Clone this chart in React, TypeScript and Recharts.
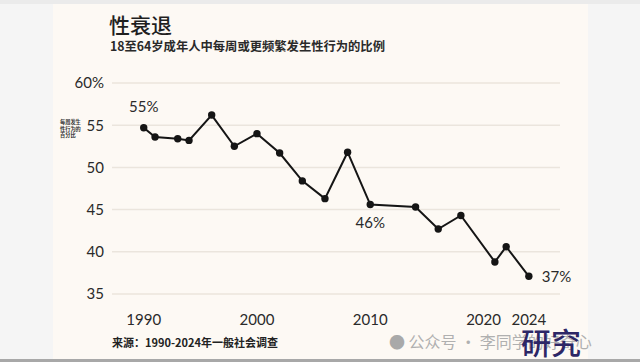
import React from 'react';
import { LineChart, Line, XAxis, YAxis, CartesianGrid, LabelList } from 'recharts';

const years = [1990, 1991, 1993, 1994, 1996, 1998, 2000, 2002, 2004, 2006, 2008, 2010, 2014, 2016, 2018, 2021, 2022, 2024];
const shares = [54.7, 53.6, 53.4, 53.2, 56.2, 52.5, 54.0, 51.7, 48.4, 46.3, 51.8, 45.6, 45.3, 42.7, 44.3, 38.8, 40.6, 37.1];
const callouts = ['55%', '', '', '', '', '', '', '', '', '', '', '46%', '', '', '', '', '', '37%'];
const xTicks = [1990, 2000, 2010, 2020, 2024];
const yTicks = [35, 40, 45, 50, 55, 60];

const data = years.map((year, i) => ({ year, share: shares[i], callout: callouts[i] }));

const LATO = 'Lato, "Noto Sans", sans-serif';
const CJK = '"Noto Sans CJK SC", "Noto Sans", sans-serif';

// callout placement differs per point: above, below, right
const CalloutLabel = (props: any) => {
  const { x, y, value, index } = props;
  if (!value) return null;
  let tx = x, ty = y - 16, anchor: 'middle' | 'start' = 'middle';
  if (index === 11) ty = y + 23;
  if (index === data.length - 1) { tx = x + 13; ty = y + 6; anchor = 'start'; }
  return (
    <text x={tx} y={ty} textAnchor={anchor} fill="#2a2a2a" fontSize={15} fontFamily={LATO}>
      {value}
    </text>
  );
};

export default function App() {
  return (
    <div style={{ position: 'absolute', left: 0, top: 0, width: 640, height: 362, background: '#f5f5f5', overflow: 'hidden' }}>
      <div style={{ position: 'absolute', left: 0, top: 0, width: 640, height: 4, background: '#ebebeb' }} />
      <div style={{ position: 'absolute', left: 53, top: 4, width: 535, height: 355, background: '#fdf9f4' }} />
      <div style={{ position: 'absolute', left: 0, top: 359, width: 640, height: 3, background: '#a8a8a8' }} />

      <div style={{ position: 'absolute', left: 109, top: 11, fontFamily: CJK, fontSize: 21, fontWeight: 500, color: '#1f1f1f', lineHeight: '26px' }}>
        性衰退
      </div>
      <div style={{ position: 'absolute', left: 110, top: 38, fontFamily: CJK, fontSize: 12.3, fontWeight: 700, color: '#2a2a2a', lineHeight: '16px' }}>
        18至64岁成年人中每周或更频繁发生性行为的比例
      </div>
      <div style={{ position: 'absolute', left: 60, top: 119, fontFamily: CJK, fontSize: 5.2, fontWeight: 700, color: '#333', lineHeight: '6.5px' }}>
        每周发生<br />性行为的<br />百分比
      </div>

      <div style={{ position: 'absolute', left: 0, top: 0 }}>
        <LineChart width={640} height={362} data={data} margin={{ top: 83, right: 80, bottom: 0, left: 52 }}>
          <CartesianGrid vertical={false} stroke="#ebe5dd" strokeWidth={1.5} />
          <XAxis
            dataKey="year"
            type="number"
            domain={[1987.2, 2026.75]}
            ticks={xTicks}
            allowDataOverflow
            axisLine={false}
            tickLine={false}
            tickMargin={14}
            height={68}
            tick={{ fill: '#2a2a2a', fontSize: 15, fontFamily: LATO }}
          />
          <YAxis
            type="number"
            domain={[35, 60]}
            ticks={yTicks}
            axisLine={false}
            tickLine={false}
            width={60}
            tickFormatter={(v: number) => (v === 60 ? '60%' : String(v))}
            tick={{ fill: '#2a2a2a', fontSize: 15, fontFamily: LATO }}
          />
          <Line
            dataKey="share"
            stroke="#151515"
            strokeWidth={2}
            dot={{ r: 3.7, fill: '#151515', stroke: '#151515', strokeWidth: 0 }}
            activeDot={false}
            isAnimationActive={false}
          >
            <LabelList dataKey="callout" content={<CalloutLabel />} />
          </Line>
        </LineChart>
      </div>

      <div style={{ position: 'absolute', left: 112, top: 334, fontFamily: CJK, fontSize: 11, fontWeight: 700, color: '#222', lineHeight: '16px' }}>
        来源：1990-2024年一般社会调查
      </div>
      <div style={{ position: 'absolute', left: 389, top: 331, fontFamily: CJK, fontSize: 16, color: '#b0b0b0', lineHeight: '20px', whiteSpace: 'nowrap' }}>
        <span style={{ color: '#a9a9a9' }}>●</span> 公众号 · 李同学的好奇心
      </div>
      <div style={{ position: 'absolute', left: 521, top: 325, fontFamily: CJK, fontSize: 30, fontWeight: 500, color: '#2d2766', lineHeight: '33px', whiteSpace: 'nowrap' }}>
        研究
      </div>
    </div>
  );
}
